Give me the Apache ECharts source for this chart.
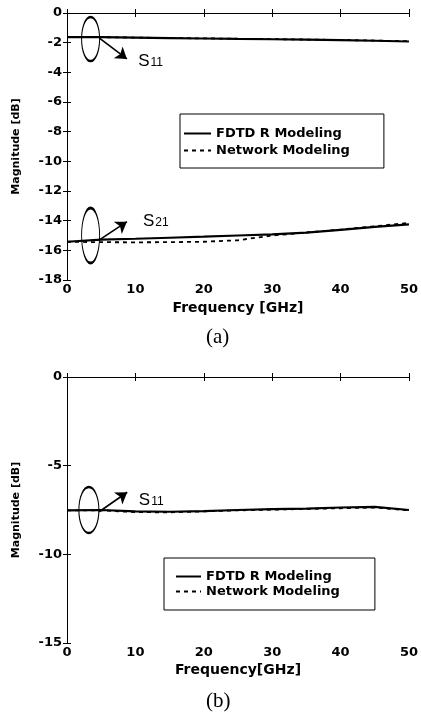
<!DOCTYPE html>
<html><head><meta charset="utf-8">
<script src="https://cdn.jsdelivr.net/npm/echarts@6/dist/echarts.min.js"></script>
<style>html,body{margin:0;padding:0;background:#fff}#c{width:421px;height:716px}</style>
</head><body><div id="c"></div>
<script>
var freq = [0,5,10,15,20,25,30,35,40,45,50];
var aS11Fdtd = [-1.62,-1.63,-1.66,-1.69,-1.72,-1.75,-1.77,-1.80,-1.83,-1.87,-1.92];
var aS11Net  = [-1.62,-1.63,-1.66,-1.69,-1.71,-1.74,-1.76,-1.79,-1.82,-1.86,-1.90];
var aS21Fdtd = [-15.42,-15.28,-15.22,-15.15,-15.08,-15.0,-14.92,-14.80,-14.62,-14.42,-14.25];
var aS21Net  = [-15.42,-15.45,-15.46,-15.45,-15.42,-15.32,-15.0,-14.80,-14.60,-14.38,-14.15];
var bS11Fdtd = [-7.52,-7.50,-7.58,-7.60,-7.56,-7.50,-7.45,-7.42,-7.36,-7.32,-7.50];
var bS11Net  = [-7.52,-7.52,-7.62,-7.63,-7.58,-7.52,-7.48,-7.44,-7.40,-7.36,-7.52];
var xTicks = [0,10,20,30,40,50];
var legendNames = ['FDTD R Modeling','Network Modeling'];

function pairs(v){ return freq.map(function(f,i){return [f,v[i]];}); }
var BF = 'DejaVu Sans';
var ellipsePath = 'path://M0,50 A25,50 0 1,1 50,50 A25,50 0 1,1 0,50 Z';

function annot(ellCoord, ellSize, arrFrom, arrTo, txtCoord, sub){
  return {
    markPoint: {
      silent: true,
      data: [
        {coord: ellCoord, symbol: ellipsePath, symbolSize: ellSize,
         itemStyle:{color:'rgba(0,0,0,0)', borderColor:'#000', borderWidth:1.6}, label:{show:false}},
        {coord: txtCoord, symbol: 'circle', symbolSize: 0,
         label:{show:true, position:'right', distance:0, formatter:'{s|S}{n|'+sub+'}',
           rich:{s:{fontFamily:'Liberation Sans', fontSize:17, color:'#000', verticalAlign:'bottom', lineHeight:18},
                 n:{fontFamily:'Liberation Sans', fontSize:12, color:'#000', verticalAlign:'bottom', lineHeight:18, padding:[0,0,1,1]}}}}
      ]
    },
    markLine: {
      silent: true, animation:false,
      symbol: ['none','arrow'], symbolSize: 11,
      lineStyle: {color:'#000', width:1.6, type:'solid'},
      label: {show:false},
      data: [[{coord: arrFrom},{coord: arrTo}]]
    }
  };
}

function xAx(gi, name, nameGap){
  return [{
    gridIndex: gi, type:'value', min:0, max:50, interval:10,
    name: name, nameLocation:'middle', nameGap: nameGap,
    nameTextStyle:{fontFamily:BF, fontWeight:'bold', fontSize:14, color:'#000'},
    axisLine:{lineStyle:{color:'#000', width:1}},
    axisTick:{inside:true, length:4, lineStyle:{color:'#000'}},
    axisLabel:{fontFamily:BF, fontWeight:'bold', fontSize:13, color:'#000', margin:3,
      formatter:function(v){return xTicks.indexOf(v)>=0? String(v):'';}},
    splitLine:{show:false}
  },{
    gridIndex: gi, type:'value', min:0, max:50, interval:10, position:'top',
    axisLine:{lineStyle:{color:'#000', width:1}},
    axisTick:{inside:true, length:4, lineStyle:{color:'#000'}},
    axisLabel:{show:false}, splitLine:{show:false}
  }];
}
function yAx(gi, min, interval){
  return [{
    gridIndex: gi, type:'value', min:min, max:0, interval:interval,
    name:'Magnitude [dB]', nameLocation:'middle', nameGap:45, nameRotate:90,
    nameTextStyle:{fontFamily:BF, fontWeight:'bold', fontSize:11, color:'#000'},
    axisLine:{show:true, lineStyle:{color:'#000', width:1}},
    axisTick:{show:true, inside:true, length:4, lineStyle:{color:'#000'}},
    axisLabel:{fontFamily:BF, fontWeight:'bold', fontSize:13, color:'#000', margin:5},
    splitLine:{show:false}
  },{
    gridIndex: gi, type:'value', min:min, max:0, interval:interval, position:'right',
    axisLine:{show:true, lineStyle:{color:'#000', width:1}},
    axisTick:{show:true, inside:true, length:4, lineStyle:{color:'#000'}},
    axisLabel:{show:false}, splitLine:{show:false}
  }];
}

function ser(name, xi, yi, data, dashed, extra){
  var s = {name:name, type:'line', xAxisIndex:xi, yAxisIndex:yi, data:pairs(data),
    symbol:'none', smooth:false, animation:false, z: dashed?3:2,
    lineStyle:{color:'#000', width: dashed?1.8:2.2, type: dashed?[4,4]:'solid'},
    itemStyle:{color:'#000'}};
  if (extra) { for (var k in extra) s[k]=extra[k]; }
  return s;
}

var legBase = {
  orient:'vertical', data: legendNames, selectedMode:false,
  backgroundColor:'#fff', borderColor:'#000', borderWidth:1,
  itemHeight:14,
  itemStyle:{opacity:0},
  textStyle:{fontFamily:BF, fontWeight:'bold', fontSize:13, color:'#000'}
};

var option = {
  animation:false,
  backgroundColor:'#fff',
  title:[
    {text:'(a)', left:206, top:327, textStyle:{fontFamily:'Liberation Serif', fontWeight:'normal', fontSize:21, color:'#000'}, padding:0},
    {text:'(b)', left:206, top:691, textStyle:{fontFamily:'Liberation Serif', fontWeight:'normal', fontSize:21, color:'#000'}, padding:0}
  ],
  grid:[
    {left:67, top:13, right:6, height:267},
    {left:67, top:377, right:6, height:266}
  ],
  xAxis: xAx(0,'Frequency [GHz]',21).concat(xAx(1,'Frequency[GHz]',20)),
  yAxis: yAx(0,-18,2).concat(yAx(1,-15,5)),
  legend:[
    Object.assign({}, legBase, {left:180, top:114, itemWidth:27, itemGap:4, padding:[13,34,11,3]}),
    Object.assign({}, legBase, {left:164, top:558, itemWidth:25, itemGap:2, padding:[12,35,12,11]})
  ],
  series:[
    ser('Network Modeling',0,0,aS11Net,true),
    ser('FDTD R Modeling',0,0,aS11Fdtd,false, annot([3.45,-1.75],[18,44],[4.74,-1.69],[8.76,-3.1],[10.4,-3.2],'11')),
    ser('Network Modeling',0,0,aS21Net,true),
    ser('FDTD R Modeling',0,0,aS21Fdtd,false, annot([3.45,-15.0],[18,55],[4.74,-15.3],[8.76,-14.07],[11.1,-14.0],'21')),
    ser('Network Modeling',2,2,bS11Net,true),
    ser('FDTD R Modeling',2,2,bS11Fdtd,false, annot([3.2,-7.5],[20,46],[4.7,-7.6],[8.8,-6.5],[10.5,-6.9],'11'))
  ]
};
var chart = echarts.init(document.getElementById('c'), null, {renderer:'canvas'});
chart.setOption(option);
</script></body></html>
